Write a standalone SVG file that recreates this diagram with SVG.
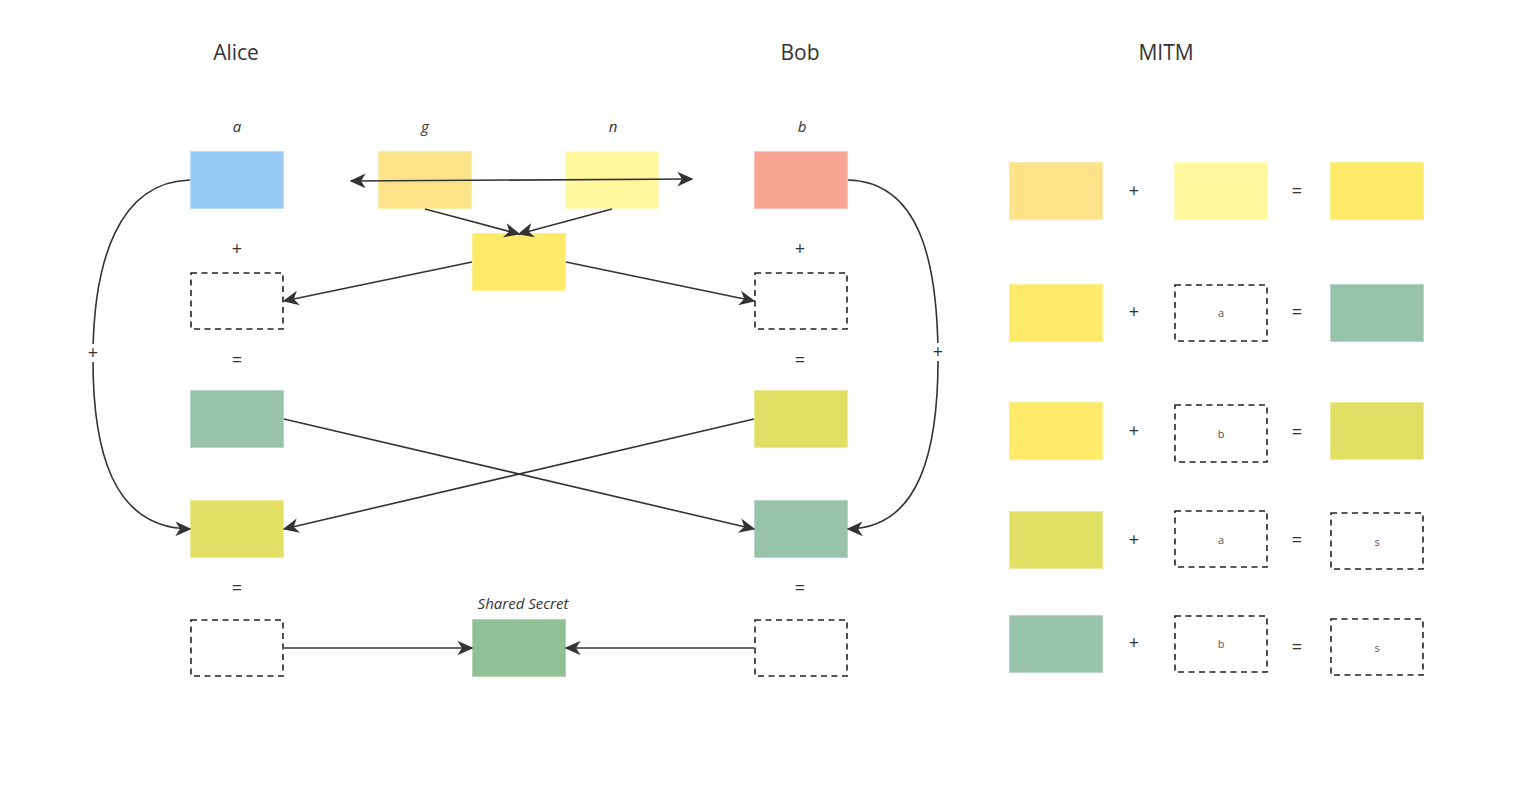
<svg xmlns="http://www.w3.org/2000/svg" width="1525" height="797" viewBox="0 0 1525 797">
<defs>
<marker id="arr" markerUnits="userSpaceOnUse" markerWidth="16" markerHeight="16" viewBox="0 0 12 12" refX="11" refY="6" orient="auto-start-reverse">
<path d="M0,0.5 L12,6 L0,11.5 L3.5,6 z" fill="#333"/>
</marker>
<style>
text{font-family:"Open Sans","Liberation Sans",sans-serif;fill:#333}
.t{font-size:21px}
.l{font-size:15px;font-style:italic}
.op{font-size:18px}
.s{font-size:11px;fill:#555}
.d{fill:#fff;stroke:#222;stroke-width:1.6;stroke-dasharray:6 4.5}
.c{fill:none;stroke:#333;stroke-width:1.6}
.blue{fill:#98CCF5;stroke:#B9DCF8}
.salmon{fill:#F8A594;stroke:#FBC2B6}
.gold{fill:#FCE38A;stroke:#FDEBAC}
.pale{fill:#FFF89F;stroke:#FFFAC0}
.yel{fill:#FCEA68;stroke:#FDF08F}
.grn{fill:#97C3AB;stroke:#B7D7C5}
.olv{fill:#E2DF65;stroke:#ECEA95}
.sec{fill:#91C096;stroke:#B0D3A9}
</style>
</defs>
<rect width="1525" height="797" fill="#fff"/>
<g id="titles">
<text class="t" x="236" y="60" text-anchor="middle">Alice</text>
<text class="t" x="800" y="60" text-anchor="middle">Bob</text>
<text class="t" x="1166" y="60" text-anchor="middle">MITM</text>
</g>
<g id="labels">
<text class="l" x="237" y="132" text-anchor="middle">a</text>
<text class="l" x="425" y="132" text-anchor="middle">g</text>
<text class="l" x="613" y="132" text-anchor="middle">n</text>
<text class="l" x="802" y="132" text-anchor="middle">b</text>
<text class="op" x="237" y="255" text-anchor="middle">+</text>
<text class="op" x="237" y="366" text-anchor="middle">=</text>
<text class="op" x="237" y="594" text-anchor="middle">=</text>
<text class="op" x="800" y="255" text-anchor="middle">+</text>
<text class="op" x="800" y="366" text-anchor="middle">=</text>
<text class="op" x="800" y="594" text-anchor="middle">=</text>
<text class="l" x="523" y="609" text-anchor="middle">Shared Secret</text>
</g>
<g id="alice-a"><rect class="blue" x="190.5" y="151.5" width="93" height="57"/></g>
<g id="g"><rect class="gold" x="378.5" y="151.5" width="93" height="57"/></g>
<g id="n"><rect class="pale" x="565.5" y="151.5" width="93" height="57"/></g>
<g id="bob-b"><rect class="salmon" x="754.5" y="151.5" width="93" height="57"/></g>
<g id="mix"><rect class="yel" x="472.5" y="233.5" width="93" height="57"/></g>
<g id="alice-plus"><rect class="d" x="191" y="273" width="92" height="56"/></g>
<g id="bob-plus"><rect class="d" x="755" y="273" width="92" height="56"/></g>
<g id="alice-pub"><rect class="grn" x="190.5" y="390.5" width="93" height="57"/></g>
<g id="bob-pub"><rect class="olv" x="754.5" y="390.5" width="93" height="57"/></g>
<g id="alice-recv"><rect class="olv" x="190.5" y="500.5" width="93" height="57"/></g>
<g id="bob-recv"><rect class="grn" x="754.5" y="500.5" width="93" height="57"/></g>
<g id="alice-res"><rect class="d" x="191" y="620" width="92" height="56"/></g>
<g id="bob-res"><rect class="d" x="755" y="620" width="92" height="56"/></g>
<g id="secret"><rect class="sec" x="472.5" y="619.5" width="93" height="57"/></g>
<g id="connectors">
<line class="c" x1="351" y1="181" x2="692" y2="179" marker-start="url(#arr)" marker-end="url(#arr)"/>
<line class="c" x1="425" y1="209" x2="519" y2="234" marker-end="url(#arr)"/>
<line class="c" x1="612" y1="209" x2="519" y2="234" marker-end="url(#arr)"/>
<line class="c" x1="472" y1="262" x2="284" y2="301" marker-end="url(#arr)"/>
<line class="c" x1="566" y1="262" x2="754" y2="301" marker-end="url(#arr)"/>
<line class="c" x1="284" y1="419" x2="754" y2="529" marker-end="url(#arr)"/>
<line class="c" x1="754" y1="419" x2="284" y2="529" marker-end="url(#arr)"/>
<line class="c" x1="284" y1="648" x2="472" y2="648" marker-end="url(#arr)"/>
<line class="c" x1="754" y1="648" x2="566" y2="648" marker-end="url(#arr)"/>
<path class="c" d="M190,180 C118,182 94,262 93,353 C92,450 112,528 190,529" marker-end="url(#arr)"/>
<path class="c" d="M848,180 C920,182 937,262 938,352 C939,450 920,528 848,529" marker-end="url(#arr)"/>
<rect x="86" y="344" width="14" height="18" fill="#fff"/>
<text class="op" x="93" y="359" text-anchor="middle">+</text>
<rect x="931" y="343" width="14" height="18" fill="#fff"/>
<text class="op" x="938" y="358" text-anchor="middle">+</text>
</g>
<g id="mitm">
<g id="m1">
<rect class="gold" x="1009.5" y="162.5" width="93" height="57"/>
<text class="op" x="1134" y="197" text-anchor="middle">+</text>
<rect class="pale" x="1174.5" y="162.5" width="93" height="57"/>
<text class="op" x="1297" y="197" text-anchor="middle">=</text>
<rect class="yel" x="1330.5" y="162.5" width="93" height="57"/>
</g>
<g id="m2">
<rect class="yel" x="1009.5" y="284.5" width="93" height="57"/>
<text class="op" x="1134" y="318" text-anchor="middle">+</text>
<rect class="d" x="1175" y="285" width="92" height="56"/>
<text class="s" x="1221" y="317" text-anchor="middle">a</text>
<text class="op" x="1297" y="318" text-anchor="middle">=</text>
<rect class="grn" x="1330.5" y="284.5" width="93" height="57"/>
</g>
<g id="m3">
<rect class="yel" x="1009.5" y="402.5" width="93" height="57"/>
<text class="op" x="1134" y="437" text-anchor="middle">+</text>
<rect class="d" x="1175" y="405" width="92" height="57"/>
<text class="s" x="1221" y="438" text-anchor="middle">b</text>
<text class="op" x="1297" y="438" text-anchor="middle">=</text>
<rect class="olv" x="1330.5" y="402.5" width="93" height="57"/>
</g>
<g id="m4">
<rect class="olv" x="1009.5" y="511.5" width="93" height="57"/>
<text class="op" x="1134" y="546" text-anchor="middle">+</text>
<rect class="d" x="1175" y="511" width="92" height="56"/>
<text class="s" x="1221" y="544" text-anchor="middle">a</text>
<text class="op" x="1297" y="546" text-anchor="middle">=</text>
<rect class="d" x="1331" y="513" width="92" height="56"/>
<text class="s" x="1377" y="546" text-anchor="middle">s</text>
</g>
<g id="m5">
<rect class="grn" x="1009.5" y="615.5" width="93" height="57"/>
<text class="op" x="1134" y="649" text-anchor="middle">+</text>
<rect class="d" x="1175" y="616" width="92" height="56"/>
<text class="s" x="1221" y="648" text-anchor="middle">b</text>
<text class="op" x="1297" y="653" text-anchor="middle">=</text>
<rect class="d" x="1331" y="619" width="92" height="56"/>
<text class="s" x="1377" y="652" text-anchor="middle">s</text>
</g>
</g>
</svg>
